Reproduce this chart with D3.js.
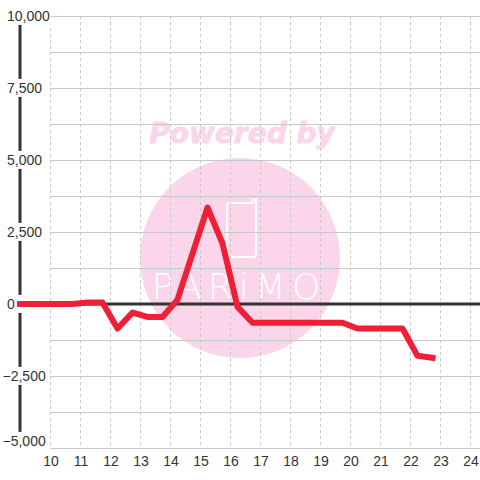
<!DOCTYPE html>
<html>
<head>
<meta charset="utf-8">
<script src="https://cdn.jsdelivr.net/npm/d3@7"></script>
<style>
html,body{margin:0;padding:0;background:#fff;}
svg{display:block;}
</style>
</head>
<body>
<svg id="chart" width="480" height="480"></svg>
<script>
const xValues = [9, 10.75, 11.25, 11.75, 12.25, 12.75, 13.25, 13.75, 14.25, 14.75, 15.25, 15.75, 16.25, 16.75, 17.25, 17.75, 18.25, 18.75, 19.25, 19.75, 20.25, 20.75, 21.25, 21.75, 22.25, 22.75];
const yValues = [0, 0, 50, 50, -850, -300, -450, -450, 150, 1750, 3350, 2100, -100, -650, -650, -650, -650, -650, -650, -650, -850, -850, -850, -850, -1800, -1870];
const xTicks = [10, 11, 12, 13, 14, 15, 16, 17, 18, 19, 20, 21, 22, 23, 24];
const yTicks = [10000, 7500, 5000, 2500, 0, -2500, -5000];
const yGrid = [10000, 8750, 7500, 6250, 5000, 3750, 2500, 1250, 0, -1250, -2500, -3750, -5000];

const svg = d3.select("#chart");
const x = d3.scaleLinear().domain([9, 24]).range([20, 470]);
const y = d3.scaleLinear().domain([-5000, 10000]).range([448, 16]);
const font = "'Liberation Sans', Arial, sans-serif";

// watermark
const wm = svg.append("g");
wm.append("text").attr("x", 242).attr("y", 143).attr("text-anchor", "middle")
  .attr("font-family", "'DejaVu Sans', sans-serif").attr("font-weight", "bold").attr("font-style", "italic")
  .attr("font-size", 28).attr("fill", "#fbd5ea").attr("stroke", "#fbd5ea").attr("stroke-width", 0.8)
  .text("Powered by");
wm.append("circle").attr("cx", 240).attr("cy", 258).attr("r", 100).attr("fill", "#fbd5ea");
wm.append("path")
  .attr("d", "M230,203 L252,203 L252,200 L256,200 L256,254 Q256,257 253,257 L230,257 Q227,257 227,254 L227,206 Q227,203 230,203 Z")
  .attr("fill", "none").attr("stroke", "#fff").attr("stroke-width", 2.2);
wm.append("text").attr("x", 239).attr("y", 299).attr("text-anchor", "middle")
  .attr("font-family", "'DejaVu Sans', sans-serif").attr("font-weight", 200).attr("font-size", 36)
  .attr("letter-spacing", 6).attr("fill", "#fff")
  .text("PARiMO");

// horizontal grid
svg.append("g").selectAll("line").data(yGrid).join("line")
  .attr("x1", 50).attr("x2", 480)
  .attr("y1", d => y(d)).attr("y2", d => y(d))
  .attr("stroke", "#c8c8c8").attr("stroke-width", 1).attr("shape-rendering", "crispEdges");

// vertical dashed grid
svg.append("g").selectAll("line").data(xTicks).join("line")
  .attr("x1", d => x(d)).attr("x2", d => x(d))
  .attr("y1", y(10000)).attr("y2", y(-5000))
  .attr("stroke", "#c8c8c8").attr("stroke-width", 1).attr("stroke-dasharray", "3,3")
  .attr("shape-rendering", "crispEdges");

// zero line
svg.append("line").attr("x1", x(9)).attr("x2", 480).attr("y1", y(0)).attr("y2", y(0))
  .attr("stroke", "#333").attr("stroke-width", 3);

// y axis line
svg.append("line").attr("x1", x(9)).attr("x2", x(9)).attr("y1", y(10000)).attr("y2", y(-5000))
  .attr("stroke", "#333").attr("stroke-width", 3);

// y labels with background
const fmt = d3.format(",");
const yl = svg.append("g");
yTicks.forEach(v => {
  const ty = v === -5000 ? 441 : y(v);
  const tx = v < 0 ? 2.5 : 7;
  const t = yl.append("text").attr("x", tx).attr("y", ty).attr("dy", "0.35em")
    .attr("font-family", font).attr("font-size", 14).attr("fill", "#333").text(fmt(v));
  const b = t.node().getBBox();
  yl.insert("rect", "text").attr("x", b.x - 1).attr("y", b.y - 1)
    .attr("width", Math.max(b.width + 2, 25 - b.x)).attr("height", b.height + 2).attr("fill", "#fff");
});

// line
const line = d3.line().x((d, i) => x(xValues[i])).y(d => y(d));
svg.append("path").datum(yValues).attr("d", line)
  .attr("fill", "none").attr("stroke", "#ee1f36").attr("stroke-width", 6)
  .attr("stroke-linejoin", "round").attr("stroke-linecap", "square");

// x labels
svg.append("g").selectAll("text").data(xTicks).join("text")
  .attr("x", d => x(d) + 1).attr("y", 461).attr("dy", "0.35em").attr("text-anchor", "middle")
  .attr("font-family", font).attr("font-size", 14).attr("fill", "#333").text(d => d);
</script>
</body>
</html>
